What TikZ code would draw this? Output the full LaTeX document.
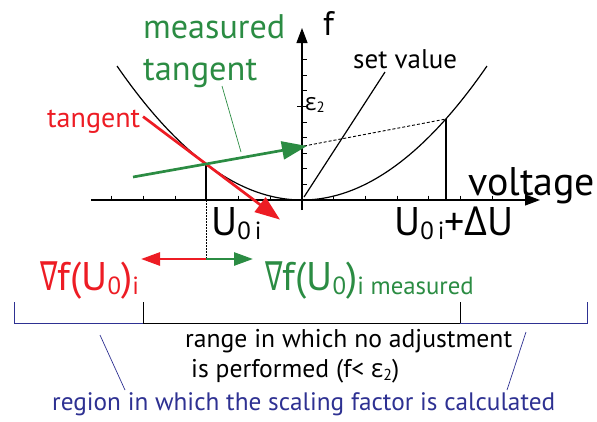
\documentclass[tikz,border=0pt]{standalone}
\usepackage{fontspec}
\usepackage{graphicx}
\setmainfont{PT Sans}
\newfontfamily\grk{Open Sans}
\newfontfamily\symf{DejaVu Sans}
\usetikzlibrary{arrows.meta}
\definecolor{myred}{HTML}{ED1C24}
\definecolor{mygreen}{HTML}{2B8C43}
\definecolor{myblue}{HTML}{2E3192}
\newcommand{\fitw}[2]{\resizebox{#1pt}{!}{#2}}
\newcommand{\lowsub}[1]{\raisebox{-0.12em}{\scalebox{0.62}{#1}}}
\newcommand{\nab}{\scalebox{0.65}[1]{\symf ∇}}
\begin{document}
\begin{tikzpicture}[x=1pt,y=-1pt,
  lbl/.style={inner sep=0pt, anchor=base west},
  axisline/.style={line width=1.1pt, -{Triangle[length=15pt,width=11pt]}},
  curve/.style={line width=1.2pt},
  thin/.style={line width=0.9pt},
  fat/.style={line width=2.7pt},
  tip/.style={-{Triangle[length=19pt,width=13pt]}},
  bigtip/.style={-{Triangle[length=25pt,width=18pt]}},
  leader/.style={line width=0.7pt}]
\useasboundingbox (0,0) rectangle (597,421);

% coordinates
\coordinate (O) at (302,200);
\coordinate (T) at (206,164);
\coordinate (R) at (446,119);
\coordinate (Tb) at (206,200);
\coordinate (Rb) at (446,200);

% axes
\draw[axisline] (91,200) -- (540,200);
\draw[axisline] (302,210) -- (302,28);
\foreach \k in {-6,...,-1,1,2,...,6}
  \draw[thin] ({302+31.7*\k},195.5) -- ({302+31.7*\k},200);
\foreach \k in {1,...,9}
  \draw[thin] (302,{200-15.6*\k}) -- (306.5,{200-15.6*\k});
\draw[thin] (297,{200-15.6*6}) -- (307,{200-15.6*6});

% parabola
\draw[curve] plot[domain=-185:185, samples=80, smooth] ({302+\x},{200-134*(\x/185)^2});

% set value line
\draw[curve] (304,197) -- (385,72);

% verticals
\draw[curve] (T) -- (Tb);
\draw[line width=0.9pt, dash pattern=on 1.5pt off 1.5pt] (Tb) -- (206,259);
\draw[curve] (R) -- (Rb);
\draw[line width=0.9pt, dash pattern=on 3pt off 2pt] (304,146) -- (R);

% tangents
\draw[fat, myred, bigtip] (143,116.6) -- (280,219.6);
\draw[fat, mygreen, bigtip] (133,177) -- (307,146);

% gradient arrows
\coordinate (G) at (206,259);
\draw[fat, myred, tip] (G) -- (141,259);
\draw[fat, mygreen, tip] (G) -- (253,259);

% labels
\node[lbl, mygreen] (meas) at (143,38) {\fitw{142}{measured}};
\node[lbl, mygreen] (mtan) at (143,80) {\fitw{114}{tangent}};
\coordinate (mlA) at (222,86);
\coordinate (mlB) at (241,152);
\draw[leader, mygreen] (mlA) -- (mlB);
\node[lbl, myred] (rtan) at (47,127) {\fitw{93}{tangent}};
\node[lbl] (flab) at (323,35) {\fontsize{34}{34}\selectfont f};
\node[lbl] (setv) at (353,68) {\fitw{104}{set value}};
\node[lbl] (eps) at (305,110) {\fontsize{24}{24}\selectfont {\grk ε}\lowsub{2}};
\node[lbl] (volt) at (468,195) {\fitw{127}{voltage}};
\node[lbl] (u0) at (211,235) {\fontsize{40}{40}\selectfont U\lowsub{0\,i}};
\node[lbl] (u0d) at (394,235) {\fontsize{40}{40}\selectfont U\lowsub{0\,i}+{\grk Δ}U};
\node[lbl, myred] (gr) at (40,290) {\fontsize{40}{40}\selectfont \nab f(U\lowsub{0})\lowsub{i}};
\node[lbl, mygreen] (gm) at (265,290) {\fontsize{40}{40}\selectfont \nab f(U\lowsub{0})\lowsub{i measured}};

% brackets
\draw[thin, myblue] (14,302) -- (14,323) -- (143,323);
\draw[thin] (143,302) -- (143,323) -- (460,323) -- (460,302);
\draw[thin, myblue] (460,323) -- (587,323) -- (587,302);

\node[lbl] (rng1) at (185,347) {\fitw{327}{range in which no adjustment}};
\node[lbl] (rng2) at (191,377) {\fitw{208}{is performed (f< {\grk ε}\lowsub{2})}};
\node[lbl, myblue] (reg) at (52,410) {\fitw{503}{region in which the scaling factor is calculated}};
\coordinate (blA) at (100,335);
\coordinate (blB) at (125,390);
\coordinate (brA) at (526,332);
\coordinate (brB) at (507,390);
\draw[leader, myblue] (blA) -- (blB);
\draw[leader, myblue] (brA) -- (brB);
\end{tikzpicture}
\end{document}
